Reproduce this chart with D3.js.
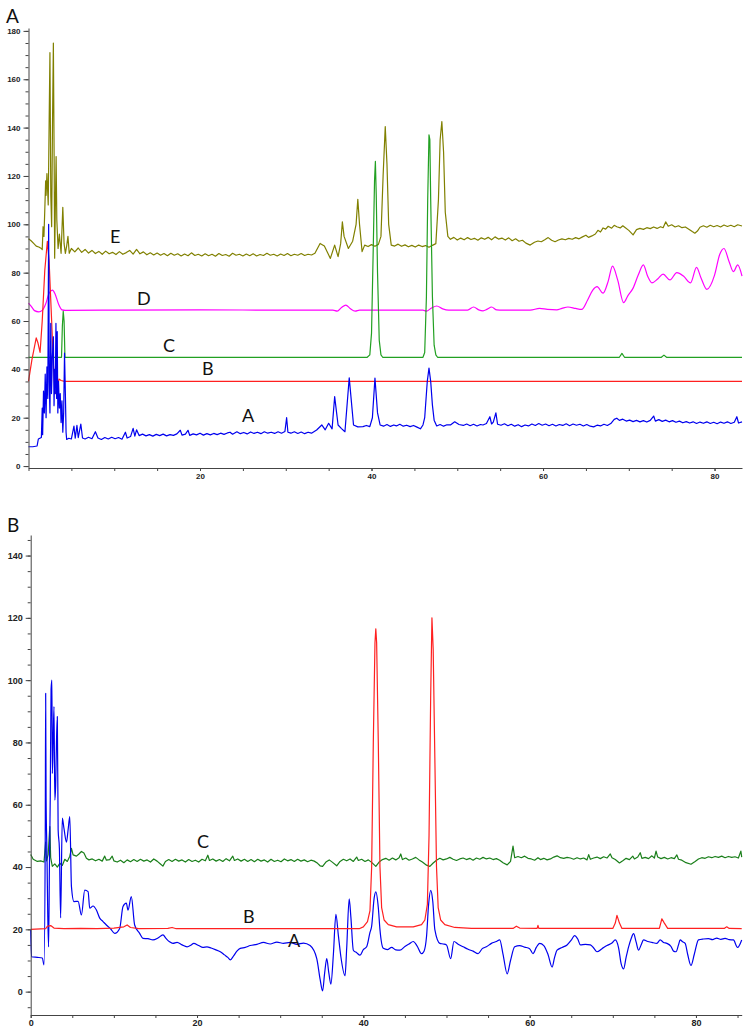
<!DOCTYPE html>
<html><head><meta charset="utf-8">
<script src="https://cdn.jsdelivr.net/npm/d3@7"></script>
<style>body{margin:0;background:#fff}</style>
</head><body><svg id="c" width="750" height="1035"></svg>
<script>
// ---------- Panel A data ----------
const aYTicks = [0,20,40,60,80,100,120,140,160,180];
const aXTicks = [20,40,60,80];
const aSeriesA = [[0,8],[0.5,8],[1.0,8.3],[1.15,11.2],[1.5,11.8],[1.6,24],[1.65,13],[1.75,31],[1.85,22],[1.95,38],[2.05,20],[2.15,41],[2.25,28],[2.35,100],[2.42,35],[2.5,22],[2.6,59],[2.68,30],[2.78,45],[2.9,53.5],[2.98,25],[3.05,40],[3.12,30],[3.2,59],[3.28,28],[3.35,55.6],[3.42,22],[3.5,35],[3.6,24],[3.7,30],[3.8,18],[3.9,27],[4.0,14],[4.1,22],[4.2,46.7],[4.3,30],[4.38,14],[4.45,11],
[4.7,11.5],[5.0,11.2],[5.3,16.5],[5.45,11.5],[5.65,16.8],[5.8,11.8],[6.1,17.4],[6.3,11.6],[6.6,11.2],[7.0,11.9],[7.4,11.3],[7.8,14.2],[8.1,11.6],[8.5,11.0],[8.9,11.8],[9.3,11.2],[9.7,11.9],[10.1,11.3],[10.5,11.8],[10.9,11.1],[11.3,14.0],[11.5,11.6],[11.9,12.2],[12.2,15.6],[12.4,12.4],[12.6,15.0],[12.9,12.6],[13.3,13.2],[13.7,12.5],[14.1,13.0],[14.5,12.4],[14.9,13.1],[15.3,12.6],[15.7,13.2],[16.1,12.5],[16.5,13.0],[16.9,12.7],[17.3,13.3],[17.7,14.8],[17.9,12.8],[18.3,13.2],[18.6,14.8],[18.8,12.7],[19.2,13.3],[19.6,12.9],[20.0,13.6],[20.4,12.8],[20.8,13.4],[21.2,12.9],[21.6,13.5],[22.0,13.0],[22.4,13.6],[22.8,13.1],[23.2,13.7],[23.5,14.0],[23.8,13.2],[24.3,14.2],[24.7,13.4],[25.1,13.9],[25.5,13.3],[25.9,14.1],[26.3,13.5],[26.7,14.0],[27.1,13.4],[27.5,14.2],[27.9,13.6],[28.3,14.0],[28.7,13.5],[29.1,14.2],[29.5,13.6],[29.9,14.3],[30.1,20],[30.25,14.0],[30.6,13.6],[31.0,14.2],[31.4,13.5],[31.8,14.1],[32.2,13.4],[32.6,14.0],[33.0,13.6],[33.6,14.9],[34.2,17],[34.6,15],[35.0,17.7],[35.4,15.4],[35.7,28.7],[36.1,17],[36.5,15.5],[36.9,14.2],[37.4,36.5],[37.9,17],[38.4,16.2],[39.0,16.3],[39.4,16.8],[39.8,16.3],[40.1,20],[40.4,36.4],[40.7,22],[41.0,17],[41.4,16.5],[41.8,17.2],[42.2,16.4],[42.6,17.0],[42.9,16.6],[43.3,17.3],[43.7,16.5],[44.1,16.9],[44.5,16.3],[44.9,16.8],[45.3,16.1],[45.7,15.4],[46.0,17],[46.2,20],[46.5,35],[46.7,40.5],[46.9,35],[47.1,25.2],[47.3,19],[47.6,16.6],[48.0,17.2],[48.4,16.5],[48.8,17.1],[49.2,17],[49.7,18.3],[50.2,17.2],[50.7,16.8],[51.1,17.4],[51.5,16.7],[51.9,17.3],[52.3,16.6],[52.7,17.2],[53.0,17.0],[53.4,17.6],[53.8,20.4],[54.0,17.4],[54.2,18.2],[54.5,22],[54.7,17.3],[55.1,16.9],[55.5,17.5],[55.9,16.7],[56.3,17.3],[56.7,16.5],[57.1,17.1],[57.5,16.3],[57.9,17.0],[58.3,16.6],[58.7,17.4],[59.1,16.8],[59.5,17.6],[59.9,16.9],[60.3,17.4],[60.7,16.7],[61.1,17.3],[61.5,16.6],[61.9,17.2],[62.3,16.8],[62.7,17.5],[63.1,16.7],[63.5,17.4],[63.9,16.9],[64.3,17.3],[64.7,16.6],[65.1,17.2],[65.5,16.5],[65.9,16.2],[66.3,16.9],[66.7,16.6],[67.1,17.3],[67.5,16.8],[67.9,17.6],[68.3,19.3],[68.6,19.8],[68.9,18.9],[69.3,19.4],[69.7,18.6],[70.1,19.0],[70.5,18.4],[70.9,18.9],[71.3,18.3],[71.7,18.8],[72.1,18.2],[72.5,18.9],[72.9,20.7],[73.1,18.6],[73.5,19.2],[73.9,18.5],[74.3,19.0],[74.7,18.3],[75.1,18.8],[75.5,18.1],[75.9,18.6],[76.3,17.9],[76.7,18.4],[77.1,17.8],[77.5,18.3],[77.9,17.6],[78.3,18.2],[78.7,17.7],[79.1,18.3],[79.5,17.6],[79.9,18.1],[80.3,17.5],[80.7,18.2],[81.1,17.7],[81.5,18.3],[81.9,17.6],[82.3,18.1],[82.6,20.4],[82.8,17.8],[83.2,18.3]];
const aSeriesB = [[0,35],[0.4,44],[0.9,53],[1.1,51],[1.35,47],[1.6,60],[1.9,81],[2.2,93],[2.4,85],[2.7,60],[2.9,42],[3.1,30],[3.3,31],[3.55,36],[3.8,35.4],[4.2,35],[83.2,35]];
const aSeriesC = [[0,45],[3.85,45],[3.95,58],[4.05,64],[4.15,60],[4.25,45],[39.5,45],[39.8,46],[40.0,55],[40.2,90],[40.35,118],[40.45,126],[40.55,112],[40.7,80],[40.9,52],[41.1,46],[41.3,45],[46.0,45],[46.2,47],[46.4,70],[46.55,110],[46.7,137],[46.8,135],[46.9,110],[47.1,70],[47.3,50],[47.5,46],[47.7,45],[68.9,45],[69.2,46.6],[69.5,45],[73.8,45],[74.1,45.9],[74.4,45],[83.2,45]];
const aSeriesD = [[0,67.4],[0.3,66.2],[0.7,64.3],[1.2,63.8],[1.6,64.4],[2.0,67],[2.4,71.5],[2.8,72.8],[3.1,71.2],[3.5,67],[3.9,64.6],[4.3,64.4],[10,64.5],[20,64.6],[30,64.5],[35.5,64.5],[36.0,64.1],[36.5,65.6],[37.0,66.6],[37.5,65.2],[38.1,64.1],[38.6,64.5],[46.0,64.5],[46.4,64.1],[47.0,65.4],[47.6,66.2],[48.3,65.0],[49.0,64.5],[51.2,64.5],[51.9,65.8],[52.5,64.6],[53.0,64.2],[53.5,64.9],[54.0,65.8],[54.6,64.6],[55.3,64.5],[58.5,64.5],[59.6,65.2],[60.5,64.8],[61.6,64.6],[62.2,65.2],[62.9,65.8],[63.8,65.2],[64.5,64.8],[65.2,68.7],[65.8,72.8],[66.3,74.2],[67.0,71.5],[67.6,76.5],[68.1,82.7],[68.7,77],[69.4,67.6],[69.9,70.5],[70.5,73.6],[71.1,79],[71.7,83.2],[72.2,78.5],[72.7,75.8],[73.4,77.5],[74.0,79.4],[74.8,77],[75.6,80],[76.4,78.5],[77.2,75.8],[77.9,82.2],[78.4,78],[79.1,73.1],[80.0,79],[80.6,87.5],[81.1,90],[81.7,84.5],[82.2,80.4],[82.7,83.2],[83.2,78.6]];
const aSeriesE = [[0,94],[0.3,93.2],[0.6,92.1],[0.9,91],[1.2,90.6],[1.5,90],[1.6,89.5],[1.7,99],[1.8,95],[1.9,106],[2.0,118],[2.05,112],[2.15,121],[2.3,108],[2.4,140],[2.5,171],[2.6,112],[2.7,99],[2.8,142],[2.9,175],[3.0,122],[3.05,86],[3.15,112],[3.22,128],[3.3,102],[3.45,90],[3.6,96],[3.8,88],[4.0,107],[4.15,92],[4.3,88],[4.45,91],[4.6,95],[4.75,88],[5.0,90],
[5.4,88.6],[5.8,90.2],[6.2,88.4],[6.6,89.6],[7.0,88.1],[7.4,89.2],[7.8,87.9],[8.2,88.8],[8.6,87.6],[9.0,88.9],[9.4,87.8],[9.8,88.4],[10.2,87.5],[10.6,88.7],[11.0,87.6],[11.4,88.3],[11.8,89.2],[12.2,87.7],[12.6,89.6],[13.0,87.8],[13.4,88.6],[13.8,87.4],[14.2,88.2],[14.6,87.3],[15.0,88.1],[15.4,87.2],[15.8,87.9],[16.2,87.0],[16.6,88.0],[17.0,87.2],[17.4,87.8],[17.8,86.9],[18.2,87.7],[18.6,87.0],[19.0,88.2],[19.4,87.1],[19.8,87.6],[20.2,86.9],[20.6,87.8],[21.0,87.0],[21.4,87.6],[21.8,86.8],[22.2,87.9],[22.6,87.1],[23.0,87.5],[23.4,86.8],[23.8,88.0],[24.2,87.2],[24.6,87.6],[25.0,86.9],[25.4,87.7],[25.8,87.0],[26.2,87.8],[26.6,86.9],[27.0,87.5],[27.4,87.1],[27.8,88.0],[28.2,87.2],[28.6,87.6],[29.0,86.9],[29.4,87.7],[29.8,87.1],[30.2,87.9],[30.6,87.0],[31.0,87.6],[31.4,87.2],[31.8,87.9],[32.2,87.1],[32.6,87.6],[33.0,87.3],[33.4,88.0],
[34.0,92.1],[34.5,91],[35.2,85.9],[35.7,91.4],[36.1,86.6],[36.4,92],[36.6,101],[36.8,95],[37.3,90],[37.8,93],[38.2,100],[38.4,110.3],[38.6,100],[38.9,88.7],[39.2,91.4],[39.6,90.8],[40.0,91.6],[40.4,90.9],[40.8,91.7],[41.1,95],[41.35,120],[41.6,140.4],[41.8,125],[42.0,100],[42.3,91.4],[42.7,91.0],[43.1,91.8],[43.5,90.9],[43.9,91.5],[44.3,90.7],[44.7,91.3],[45.1,90.6],[45.5,91.4],[45.9,90.8],[46.3,91.2],[46.7,90.5],[47.1,91.3],[47.5,92],[47.8,110],[48.0,135],[48.2,142.5],[48.4,130],[48.6,105],[48.9,95],[49.2,93.8],[49.6,94.6],[50.0,93.5],
[50.4,94.3],[50.8,93.6],[51.2,94.5],[51.6,93.7],[52.0,94.2],[52.4,93.4],[52.8,94.4],[53.2,93.8],[53.6,94.6],[54.0,93.6],[54.4,94.8],[54.8,93.9],[55.2,94.3],[55.6,93.5],[56.0,94.4],[56.4,93.2],[56.8,94.0],[57.2,93.0],[57.6,93.4],[58.0,92.2],[58.5,91.4],[59.0,92.6],[59.4,93.1],[59.8,92.8],[60.2,93.6],[60.6,94.5],[61.0,93.4],[61.4,92.8],[61.8,93.5],[62.2,94.0],[62.6,93.6],[63.0,94.2],[63.4,93.8],[63.8,94.5],[64.2,94.0],[64.6,94.8],[65.0,95.5],[65.3,94.6],[65.7,95.2],[66.1,96.0],[66.4,97.5],[66.7,96.8],[67.0,98.5],[67.3,98.0],[67.6,99.2],[68.0,98.4],[68.3,99.6],[68.6,99.0],[69.0,98.5],[69.3,99.4],[69.6,98.6],[70.0,97.5],[70.5,95.6],[70.9,97.8],[71.3,98.3],[71.7,97.9],[72.1,98.6],[72.5,98.2],[72.9,98.9],[73.3,98.3],[73.7,99.0],[74.0,98.6],[74.3,101],[74.6,99.2],[75.0,99.8],[75.4,98.9],[75.8,99.4],[76.2,98.6],[76.6,98.9],[77.0,98.0],[77.4,97.0],[77.7,96.3],[78.0,97.2],[78.3,98.8],[78.7,99.4],[79.1,98.8],[79.5,99.6],[79.9,99.0],[80.3,99.5],[80.7,98.9],[81.1,99.7],[81.5,99.1],[81.9,99.6],[82.3,99.0],[82.7,99.8],[83.2,99.3]];

// ---------- Panel B data ----------
const bYTicks = [0,20,40,60,80,100,120,140];
const bXTicks = [0,20,40,60,80];
const bSeriesA = [[0,19.8],[0.1,11.2],[0.8,11],[1.4,10.8],[1.6,8.6],[1.75,50],[1.8,95.8],[1.85,62],[1.95,45],[2.05,25],[2.15,14.4],[2.25,40],[2.35,62],[2.45,97],[2.55,100],[2.6,70],[2.7,80],[2.8,91.5],[2.9,61.5],[3.0,66],[3.1,80],[3.2,88.3],[3.3,52],[3.45,46],[3.6,23.7],[3.8,55.7],[4.0,52.4],[4.3,48],[4.5,52],[4.7,56.2],[4.9,33.7],[5.2,28.9],[5.7,29],[6.1,24.6],[6.5,32.6],[6.9,32.1],[7.1,26.8],[7.5,27.5],[7.9,26.2],[8.3,23.6],[8.7,22.5],[9.1,21.4],[9.6,20.2],[10.1,18.7],[10.7,20.3],[11.1,27.3],[11.5,28.4],[11.7,26.2],[12.1,30.5],[12.5,21.4],[13.1,18.7],[13.5,17.1],[14.1,17.0],[14.7,16.6],[15.3,17.2],[15.9,18.2],[16.3,17.0],[16.7,16.0],[17.1,15.5],[17.6,15.8],[18.2,15.0],[18.8,14.4],[19.3,15.0],[19.6,15.5],[20.2,14.8],[20.7,14.2],[21.2,14.4],[21.7,14.0],[22.2,13.5],[22.8,12.8],[23.3,11.8],[23.7,11.0],[24.0,10.2],[24.4,11.5],[24.8,13.0],[25.2,13.9],[25.8,14.2],[26.4,14.8],
[27.2,15.2],[28.0,15.8],[28.8,15.3],[29.6,15.9],[30.4,15.5],[31.2,15.8],[32.0,15.2],[32.8,15.6],[33.6,14.8],[34.4,10.6],[34.8,4],[35.1,0.2],[35.35,6],[35.6,10.6],[35.85,6],[36.1,2.4],[36.4,12],[36.7,24.8],[37.0,18],[37.3,11.2],[37.8,5.1],[38.0,14],[38.3,29.8],[38.5,24],[38.8,13.3],[39.2,12.5],[39.6,11.7],[40.0,13.5],[40.4,14.4],[40.8,19],[41.0,21],[41.3,30],[41.5,32],[41.8,27],[42.0,19.9],[42.4,13.9],[42.9,13.5],[43.4,14.2],[43.9,13.4],[44.4,13.3],[45.0,14.5],[45.5,15.3],[46.0,16.1],[46.5,14.5],[47.0,12.2],[47.3,13],[47.6,17.7],[47.85,28],[48.1,32.5],[48.35,29],[48.6,19.9],[49.2,15.5],[49.6,15.3],[50.0,15.0],[50.5,10.6],[50.9,16.1],[51.4,15.2],[52.0,14.4],[52.6,13.6],[53.2,13.0],[53.8,12.2],[54.3,13.8],[54.8,14.4],[55.4,15.5],[56.0,16.1],[56.4,16.6],[56.8,12],[57.3,5.7],[57.7,10],[58.2,14.4],[58.8,14.8],[59.4,14.3],[60.0,13.8],[60.4,12.2],[60.8,14.2],[61.2,15.5],[61.7,14.8],[62.2,12],[62.7,7.9],[63.0,11],[63.3,13.3],[63.9,14.2],[64.5,15.0],[65.0,16.5],[65.4,18.0],[65.8,16.8],[66.1,15.0],[66.7,15.2],[67.3,15.0],[67.7,14],[68.1,12.8],[68.7,13.8],[69.3,14.8],[69.9,15.6],[70.3,16.6],[70.7,14],[71.0,9],[71.3,7.3],[71.6,11],[71.9,14.4],[72.2,17],[72.5,18.6],[72.8,16],[73.1,13.3],[73.4,15],[73.7,16.6],[74.2,16.1],[74.7,15.8],[75.3,15.5],[75.7,16.6],[76.1,15.8],[76.5,15.5],[77.0,14.5],[77.3,13],[77.6,12.8],[77.9,15],[78.1,16.6],[78.4,16.0],[78.7,15.5],[79.0,12],[79.4,8.4],[79.8,12],[80.3,16.6],[80.9,16.9],[81.5,17.0],[82.0,16.7],[82.5,17.2],[83.0,16.8],[83.5,17.1],[84.0,16.7],[84.5,16.6],[85.0,14.2],[85.5,16.6]];
const bSeriesB = [[0,20],[1.8,20.2],[2.0,21],[2.4,21.2],[2.8,20.4],[4,20.2],[6,20.3],[8,20.2],[10,20.4],[11.2,20.8],[11.6,21.4],[12,20.6],[13,20.2],[16.5,20.3],[17,20.6],[17.5,20.2],[39.5,20.2],[40,20.8],[40.5,22.5],[40.8,26],[41.0,40],[41.2,80],[41.4,112],[41.5,116.5],[41.6,112],[41.8,80],[42.0,40],[42.2,27],[42.5,23],[43,21.5],[44,20.8],[46,20.8],[47,21.5],[47.4,23],[47.7,28],[47.9,50],[48.1,95],[48.25,120],[48.4,110],[48.6,75],[48.8,40],[49.0,27],[49.3,23],[49.8,21.5],[51,20.6],[53,20.3],[58,20.3],[58.4,21],[58.8,20.4],[60.9,20.3],[61.0,21.3],[61.1,20.3],[70,20.3],[70.3,22],[70.5,24.5],[70.8,22],[71.1,20.3],[75.6,20.3],[75.9,23.4],[76.2,22],[76.6,20.3],[83.4,20.3],[83.7,20.8],[84,20.3],[85.5,20.2]];
const bSeriesC = [[0,44],[0.3,42.5],[0.8,41.8],[1.2,42.0],[1.6,41.6],[1.8,48],[1.9,42],[2.1,44],[2.3,53],[2.4,43],[2.6,40.2],[2.9,41],[3.2,40.0],[3.5,41.2],[3.8,40.5],[4.1,42.5],[4.4,41.8],[4.7,43.5],[4.9,46],[5.1,43.9],[5.5,43.5],[5.8,44.2],[6.1,45],[6.4,44.5],[6.7,42.8],[7.0,42.3],[7.4,42.6],[7.8,42.0],[8.2,42.5],[8.6,41.9],[8.9,43.5],[9.1,42.2],[9.5,42.4],[9.8,43.5],[10.0,42.0],[10.4,41.6],[10.8,42.2],[11.2,41.4],[11.6,42.3],[12.0,41.7],[12.4,42.4],[12.8,41.8],[13.2,42.5],[13.6,41.9],[14.0,42.3],[14.4,41.6],[14.8,42.6],[15.2,41.9],[15.6,41.0],[15.9,40.3],[16.2,41.8],[16.6,42.4],[17.0,41.8],[17.4,42.5],[17.8,41.9],[18.2,42.3],[18.6,41.6],[19.0,42.4],[19.4,41.8],[19.8,42.2],[20.2,41.6],[20.6,42.5],[21.0,42.0],[21.3,43.8],[21.5,42.1],[21.9,42.6],[22.3,41.9],[22.7,42.4],[23.1,41.8],[23.5,42.7],[23.9,42.0],[24.3,43.5],[24.5,42.1],[24.9,42.6],[25.3,41.9],[25.7,42.5],
[26.1,41.8],[26.5,42.4],[26.9,41.7],[27.3,42.5],[27.7,41.9],[28.1,42.3],[28.5,41.6],[28.9,42.5],[29.3,41.8],[29.7,42.2],[30.1,41.7],[30.5,42.6],[30.9,42.0],[31.3,42.4],[31.7,41.8],[32.1,42.5],[32.5,41.9],[32.9,42.3],[33.3,41.7],[33.7,42.2],[34.1,41.9],[34.5,41.2],[34.8,40.4],[35.1,40.2],[35.5,41.6],[35.9,42.3],[36.3,41.5],[36.8,40.4],[37.2,41.8],[37.6,42.5],[38.0,42.0],[38.4,42.6],[38.8,41.8],[39.2,43.2],[39.4,42.1],[39.8,42.5],[40.2,41.8],[40.6,42.3],[41.0,41.5],[41.5,40.2],[41.9,41.6],[42.3,42.4],[42.7,42.8],[43.1,42.2],[43.5,42.9],[43.9,42.3],[44.3,43.0],[44.5,44.2],[44.7,42.4],[45.1,42.9],[45.5,42.2],[45.9,42.6],[46.3,43.1],[46.7,42.3],[47.1,41.6],[47.6,40.6],[48.0,40.2],[48.4,41.3],[48.8,42.2],[49.2,42.8],[49.6,42.3],[50.0,42.6],[50.4,43.1],[50.8,42.5],[51.2,42.1],[51.6,42.6],[52.0,42.9],[52.4,42.4],[52.8,42.8],[53.2,42.2],[53.6,42.9],[54.0,42.5],[54.4,43.1],[54.8,42.6],[55.2,42.9],[55.6,42.4],[56.0,42.7],[56.4,42.2],[56.8,41.4],[57.3,40.7],[57.7,41.8],[58.0,46.7],[58.2,43.0],[58.6,43.4],[59.0,43.0],[59.4,43.5],[59.8,42.8],[60.2,42.6],[60.6,42.2],[61.0,43.0],[61.3,42.4],[61.7,42.8],[62.1,42.3],[62.5,42.6],[62.9,43.2],[63.3,43.6],[63.7,43.0],[64.1,42.8],[64.5,43.1],[64.9,42.9],[65.3,42.5],[65.7,43.0],[66.1,42.6],[66.5,42.9],[66.9,42.3],[67.1,44.0],[67.3,42.5],[67.7,42.9],[68.1,43.2],[68.5,42.7],[68.9,43.3],[69.3,42.9],[69.7,44.2],[69.9,43.0],[70.3,42.4],[70.8,41.3],[71.2,42.0],[71.6,42.8],[72.0,42.4],[72.4,43.5],[72.6,42.6],[73.0,43.2],[73.3,44.6],[73.5,42.8],[73.9,43.1],[74.3,42.7],[74.7,43.6],[75.0,42.9],[75.2,45.1],[75.4,43.2],[75.8,42.7],[76.2,43.1],[76.6,42.6],[77.0,43.0],[77.4,42.7],[77.7,43.9],[77.9,42.5],[78.3,42.2],[78.8,41.4],[79.4,40.9],[79.9,41.8],[80.3,42.6],[80.7,43.0],[81.1,42.8],[81.5,43.3],[81.9,43.0],[82.3,43.4],[82.7,43.1],[83.1,43.5],[83.5,43.0],[83.9,43.4],[84.3,43.1],[84.7,43.3],[85.1,42.9],[85.4,45.1],[85.5,43.2]];

const svg = d3.select('#c');

function drawPanel(cfg) {
  const x = d3.scaleLinear().domain(cfg.xDomain).range(cfg.xRange);
  const y = d3.scaleLinear().domain(cfg.yDomain).range(cfg.yRange);
  const g = svg.append('g');

  cfg.series.forEach(s => {
    const line = d3.line().x(d => x(d[0])).y(d => y(d[1]))
      .curve(s.smooth ? d3.curveMonotoneX : d3.curveLinear);
    g.append('path').datum(s.data).attr('d', line)
      .attr('fill', 'none').attr('stroke', s.color)
      .attr('stroke-width', 1.2).attr('stroke-linejoin', 'round');
  });

  const yMinor = d3.range(Math.ceil(cfg.yDomain[0] / 5) * 5, cfg.yDomain[1], 5);
  const xMinor = d3.range(0, cfg.xDomain[1], 5);
  g.append('g').attr('transform', `translate(${cfg.xRange[0]},0)`)
    .call(d3.axisLeft(y).tickValues(yMinor).tickSize(3).tickFormat(''))
    .call(a => a.select('.domain').remove())
    .selectAll('line').attr('stroke', '#444');
  const yAx = g.append('g').attr('transform', `translate(${cfg.xRange[0]},0)`)
    .call(d3.axisLeft(y).tickValues(cfg.yTicks).tickSize(5).tickPadding(3).tickSizeOuter(0));
  yAx.select('.domain').attr('stroke', '#444');
  yAx.selectAll('line').attr('stroke', '#444');
  yAx.selectAll('text').attr('font-family', 'Liberation Sans, Arial, sans-serif')
    .attr('font-weight', 'bold').attr('font-size', cfg.fs).attr('fill', '#222');

  g.append('g').attr('transform', `translate(0,${cfg.yRange[0]})`)
    .call(d3.axisBottom(x).tickValues(xMinor).tickSize(3).tickFormat(''))
    .call(a => a.select('.domain').remove())
    .selectAll('line').attr('stroke', '#444');
  const xAx = g.append('g').attr('transform', `translate(0,${cfg.yRange[0]})`)
    .call(d3.axisBottom(x).tickValues(cfg.xTicks).tickSize(3).tickPadding(2).tickSizeOuter(0));
  xAx.select('.domain').attr('stroke', '#444');
  xAx.selectAll('line').attr('stroke', '#444');
  xAx.selectAll('text').attr('font-family', 'Liberation Sans, Arial, sans-serif')
    .attr('font-weight', 'bold').attr('font-size', cfg.fs).attr('fill', '#222');

  svg.append('text').attr('x', cfg.title[0]).attr('y', cfg.title[1]).text(cfg.title[2])
    .attr('font-family', 'Lato, Open Sans, sans-serif').attr('font-size', 19).attr('fill', '#111');
  cfg.labels.forEach(l => {
    svg.append('text').attr('x', l[0]).attr('y', l[1]).text(l[2])
      .attr('font-family', 'Lato, Open Sans, sans-serif').attr('font-size', 18).attr('fill', '#111');
  });
}

drawPanel({
  xDomain: [0, 83.2], xRange: [28.5, 742],
  yDomain: [-0.8, 181.2], yRange: [468, 28],
  yTicks: aYTicks, xTicks: aXTicks, fs: 8,
  title: [6, 23, 'A'],
  series: [
    {data: aSeriesE, color: '#808000'},
    {data: aSeriesD, color: '#ff00ff', smooth: true},
    {data: aSeriesC, color: '#22a022'},
    {data: aSeriesB, color: '#ff2020'},
    {data: aSeriesA, color: '#0000ee'}
  ],
  labels: [[110, 243, 'E'], [137, 305, 'D'], [163, 352, 'C'], [202, 375, 'B'], [242, 422, 'A']]
});

drawPanel({
  xDomain: [0, 85.5], xRange: [30.7, 741.7],
  yDomain: [-7.5, 146.6], yRange: [1015, 535],
  yTicks: bYTicks, xTicks: bXTicks, fs: 9,
  title: [7, 532, 'B'],
  series: [
    {data: bSeriesC, color: '#1a7f1a'},
    {data: bSeriesA, color: '#0000ee', smooth: true},
    {data: bSeriesB, color: '#ff2020'}
  ],
  labels: [[197, 848, 'C'], [243, 923, 'B'], [288, 947, 'A']]
});
</script></body></html>
